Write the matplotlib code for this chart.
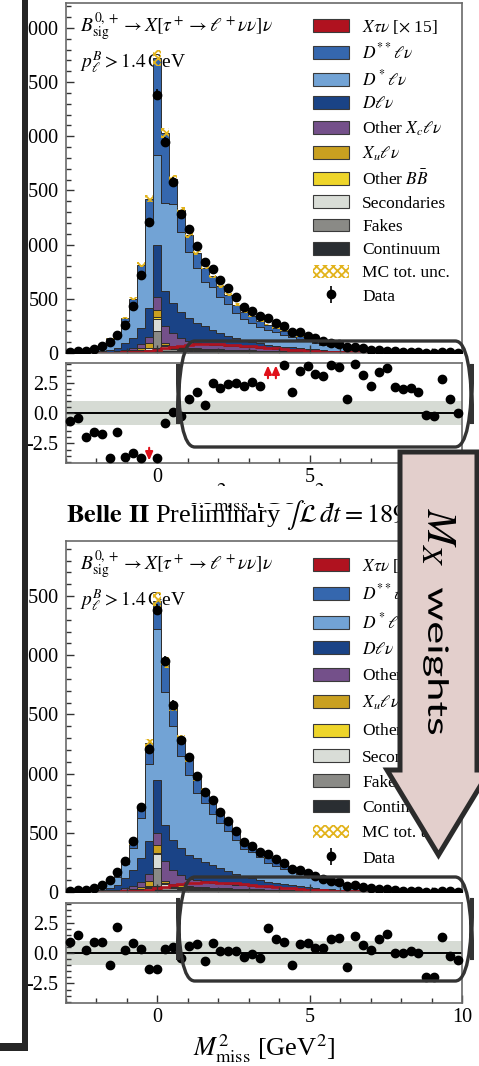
import numpy as np
import matplotlib.pyplot as plt
from matplotlib.patches import Rectangle, Polygon, FancyBboxPatch, PathPatch
from matplotlib.ticker import MultipleLocator, FormatStrFormatter
from matplotlib.textpath import TextPath
from matplotlib.font_manager import FontProperties
from matplotlib.transforms import Affine2D, IdentityTransform

plt.rcParams['font.family'] = 'serif'
plt.rcParams['font.serif'] = ['Liberation Serif', 'DejaVu Serif']
plt.rcParams['mathtext.fontset'] = 'stix'
plt.rcParams['hatch.linewidth'] = 1.3

# 50 bins in M_miss^2 from -3 to 10 GeV^2
edges = np.linspace(-3, 10, 51)
centers = 0.5 * (edges[:-1] + edges[1:])

# components common to both fits (not touched by the M_X weights)
continuum = [2, 2, 3, 3, 4, 4, 5, 6, 8, 10, 15, 50, 20, 18, 16, 15, 14, 13, 12, 11,
             10, 10, 9, 9, 8, 8, 7, 7, 6, 6, 5, 5, 5, 4, 4, 4, 3, 3, 3, 2,
             2, 2, 2, 2, 1, 1, 1, 1, 1, 1]
fakes = [0, 0, 1, 1, 1, 2, 2, 3, 5, 8, 15, 150, 25, 15, 12, 10, 9, 8, 7, 6,
         6, 5, 5, 4, 4, 4, 3, 3, 3, 2, 2, 2, 2, 1, 1, 1, 1, 1, 1, 1,
         1, 1, 0, 0, 0, 0, 0, 0, 0, 0]
secondaries = [0, 0, 0, 1, 1, 1, 2, 3, 4, 6, 12, 118, 20, 12, 10, 9, 8, 7, 6, 5,
               5, 4, 4, 3, 3, 3, 2, 2, 2, 2, 2, 1, 1, 1, 1, 1, 1, 1, 0, 0,
               0, 0, 0, 0, 0, 0, 0, 0, 0, 0]
other_bb = [0, 0, 0, 0, 1, 1, 2, 3, 4, 5, 8, 12, 8, 8, 8, 7, 7, 6, 6, 5,
            5, 5, 4, 4, 4, 3, 3, 3, 3, 2, 2, 2, 2, 2, 1, 1, 1, 1, 1, 1,
            1, 1, 1, 0, 0, 0, 0, 0, 0, 0]
xu_lnu = [0, 0, 1, 1, 1, 2, 3, 5, 8, 15, 40, 70, 20, 12, 10, 9, 8, 7, 6, 6,
          5, 5, 4, 4, 4, 3, 3, 3, 2, 2, 2, 2, 1, 1, 1, 1, 1, 1, 1, 0,
          0, 0, 0, 0, 0, 0, 0, 0, 0, 0]
xtaunu_x15 = [0, 0, 1, 1, 1, 2, 3, 5, 8, 12, 20, 30, 45, 58, 68, 76, 80, 82, 82, 80,
              77, 72, 66, 60, 54, 48, 42, 36, 30, 25, 20, 16, 13, 10, 8, 6, 5, 4, 3, 2,
              2, 1, 1, 1, 1, 0, 0, 0, 0, 0]
mc_unc = [1, 1, 2, 2, 3, 5, 7, 10, 15, 22, 35, 75, 45, 35, 28, 24, 20, 18, 16, 14,
          12, 11, 10, 9, 8, 7, 6, 6, 5, 5, 4, 4, 3, 3, 3, 2, 2, 2, 2, 1,
          1, 1, 1, 1, 1, 1, 1, 1, 1, 1]

data = [10, 14, 20, 36, 62, 98, 168, 262, 432, 716, 1208, 2385, 1950, 1580, 1285, 1140, 983, 842, 775, 678,
        597, 513, 421, 388, 337, 324, 278, 245, 194, 190, 160, 134, 110, 96, 81, 51, 56, 42, 31, 27,
        22, 14, 12, 11, 9, 3, 2, 9, 5, 4]

# X_c l nu components before the M_X weights
oxc_pre = [1, 1, 1, 2, 2, 3, 6, 12, 20, 36, 57, 114, 155, 122, 85, 60, 50, 45, 40, 38,
           35, 32, 30, 28, 25, 23, 21, 19, 17, 15, 13, 11, 9, 8, 7, 6, 5, 4, 3, 3,
           2, 2, 2, 1, 1, 1, 1, 1, 1, 1]
dlnu_pre = [2, 3, 3, 5, 8, 11, 29, 63, 92, 152, 269, 483, 321, 273, 239, 210, 184, 159, 133, 109,
            89, 74, 62, 51, 42, 34, 29, 22, 18, 15, 12, 10, 8, 6, 5, 3, 2, 1, 1, 1,
            1, 1, 1, 1, 1, 1, 1, 1, 1, 0]
dstar_pre = [6, 8, 17, 28, 52, 101, 124, 200, 315, 493, 789, 828, 811, 919, 738, 616, 500, 414, 396, 340,
             295, 235, 192, 176, 154, 138, 124, 110, 97, 84, 71, 60, 49, 40, 31, 24, 18, 13, 9, 6,
             3, 1, 0, 1, 2, 1, 1, 0, 0, 0]
dss_pre = [1, 2, 3, 4, 6, 10, 15, 25, 45, 90, 220, 900, 650, 231, 200, 153, 140, 130, 100, 95,
           88, 76, 66, 58, 52, 46, 40, 36, 32, 28, 24, 20, 17, 14, 11, 9, 7, 6, 5, 4,
           3, 2, 2, 2, 1, 1, 1, 1, 1, 1]

# X_c l nu components after the M_X weights
oxc_post = [1, 1, 1, 2, 2, 3, 7, 13, 22, 38, 60, 100, 165, 125, 88, 64, 54, 48, 43, 40,
            37, 34, 32, 30, 27, 25, 22, 20, 18, 16, 14, 12, 10, 9, 8, 7, 6, 5, 4, 3,
            2, 2, 2, 1, 1, 1, 1, 1, 1, 1]
dlnu_post = [1, 2, 2, 4, 8, 17, 40, 83, 135, 203, 277, 449, 310, 250, 226, 199, 185, 168, 149, 127,
             107, 89, 74, 61, 50, 40, 35, 27, 22, 18, 14, 11, 8, 6, 4, 2, 1, 0, 0, 1,
             1, 1, 1, 1, 1, 1, 1, 1, 1, 0]
dstar_post = [2, 3, 9, 16, 32, 69, 69, 120, 189, 342, 658, 1271, 1119, 962, 780, 677, 555, 493, 429, 386,
              338, 285, 233, 219, 195, 160, 146, 132, 121, 105, 86, 75, 60, 48, 39, 34, 25, 20, 15, 10,
              6, 5, 4, 4, 5, 5, 4, 2, 2, 2]
dss_post = [1, 1, 2, 3, 5, 9, 12, 22, 40, 80, 170, 235, 250, 160, 150, 130, 120, 110, 95, 88,
            80, 72, 63, 56, 50, 44, 39, 35, 31, 27, 23, 20, 17, 14, 11, 9, 7, 6, 5, 4,
            3, 2, 2, 2, 1, 1, 1, 1, 1, 1]

pull_pre = [-0.66, -0.44, -2.0, -1.53, -1.72, -3.7, -1.53, -3.58, -3.3, -3.66,
            -4.8, -3.7, -0.85, 0.1, -0.25, 1.15, 1.7, 0.66, 2.43, 2.02,
            2.35, 2.49, 2.21, 2.57, 2.24, 4.6, 4.5, 3.93, 1.75, 3.47,
            3.85, 3.17, 3.06, 3.93, 3.74, 1.12, 3.99, 3.11, 2.21, 3.33,
            3.72, 2.1, 1.97, 2.08, 1.75, -0.16, -0.25, 2.76, 1.12, 0.03]
pull_post = [0.93, 1.48, 0.25, 0.93, 0.93, -0.98, 2.16, 0.25, 0.85, 0.33,
             -1.34, -1.34, 0.3, 0.46, -0.44, 0.6, 0.71, -0.63, 0.79, 0.16,
             0.16, 0.16, -0.36, -0.08, -0.44, 2.02, 1.12, 0.87, -0.98, 0.71,
             0.79, 0.38, 0.38, 1.12, 1.26, -1.17, 1.42, 0.66, 0.25, 1.15,
             1.56, -0.02, -0.02, 0.19, -0.02, -2.0, -2.0, 1.28, -0.22, -0.57]

labels = [r'$X\tau\nu$ [$\times$ 15]', r'$D^{**}\ell\nu$', r'$D^*\ell\nu$', r'$D\ell\nu$',
          r'Other $X_c\ell\nu$', r'$X_u\ell\nu$', r'Other $B\bar{B}$', 'Secondaries',
          'Fakes', 'Continuum', 'MC tot. unc.', 'Data']
colors = ['#b0121f', '#3567ae', '#72a3d5', '#1a4386', '#74508a', '#c9a020', '#eed52a',
          '#d9ddd7', '#8a8a86', '#2a2e32']
GOLD = '#e2b31c'

W, H = 479, 1066
fig = plt.figure(figsize=(W / 100, H / 100), dpi=100)


def fx(x):
    return x / W


def fy(y):
    return 1 - y / H


def axes_px(x0, y0, x1, y1):
    return fig.add_axes([fx(x0), fy(y1), fx(x1) - fx(x0), (y1 - y0) / H])


def style(ax):
    for s in ax.spines.values():
        s.set_color('#6a6a6a')
        s.set_linewidth(1.2)
    ax.tick_params(which='both', direction='in', top=False, right=False, labelsize=14.5,
                   color='#333333', width=1)
    ax.tick_params(which='major', length=6)
    ax.tick_params(which='minor', length=3.5)
    ax.tick_params(axis='y', pad=5.5)
    ax.set_xlim(-3, 10)
    ax.xaxis.set_major_locator(MultipleLocator(5))
    ax.xaxis.set_minor_locator(MultipleLocator(1))


def main_panel(ax, oxc, dlnu, dstar, dss, ymax, spacing, leg_top):
    style(ax)
    stack = [continuum, fakes, secondaries, other_bb, xu_lnu, oxc, dlnu, dstar, dss]
    stack_colors = colors[1:][::-1]
    base = np.zeros(len(centers))
    for vals, c in zip(stack, stack_colors):
        top = base + np.array(vals)
        ax.stairs(top, edges, baseline=base, fill=True, facecolor=c,
                  edgecolor='#2e2e2e', lw=0.7)
        base = top
    unc = np.array(mc_unc)
    ax.stairs(base + unc, edges, baseline=base - unc, fill=True, facecolor='none',
              edgecolor=GOLD, hatch='xxxx', lw=0)
    ax.stairs(xtaunu_x15, edges, color=colors[0], lw=1.9)
    eb = ax.errorbar(centers, data, yerr=np.sqrt(data), fmt='o', color='black', ms=6,
                     elinewidth=1.2, capsize=0, zorder=4)
    ax.set_ylim(0, ymax)
    ax.yaxis.set_major_locator(MultipleLocator(500))
    ax.yaxis.set_minor_locator(MultipleLocator(100))
    ax.tick_params(labelbottom=False)

    ax.text(0.035, 0.93, r'$B^{0,+}_{\mathrm{sig}} \rightarrow X[\tau^+ \rightarrow \ell^+\nu\nu]\nu$',
            transform=ax.transAxes, fontsize=14, va='center', zorder=0.5)
    ax.text(0.035, 0.832, r'$p^B_\ell > 1.4\,$GeV', transform=ax.transAxes, fontsize=14,
            va='center', zorder=0.5)

    handles = [Rectangle((0, 0), 1, 1, facecolor=c, edgecolor='#3a3a3a', lw=0.8) for c in colors]
    handles.append(Rectangle((0, 0), 1, 1, facecolor='none', edgecolor=GOLD, hatch='xxxx', lw=0))
    handles.append(eb)
    ax.legend(handles, labels, loc='upper left', bbox_to_anchor=(0.623, leg_top), frameon=False,
              fontsize=12.5, handlelength=2.1, handleheight=0.75, labelspacing=spacing,
              handletextpad=0.75, borderpad=0, borderaxespad=0)


def pull_panel(ax, pull):
    style(ax)
    pull = np.array(pull)
    ax.axhspan(-1, 1, color='#d6dbd4', lw=0, zorder=0)
    ax.axhline(0, color='black', lw=1.4, zorder=1)
    ok = np.abs(pull) <= 4.1
    ax.plot(centers[ok], pull[ok], 'o', color='black', ms=6, clip_on=False, zorder=3)
    # out-of-range pulls shown as red arrows
    for c, p in zip(centers[~ok], pull[~ok]):
        s = np.sign(p)
        ax.annotate('', xy=(c, 3.9 * s), xytext=(c, 2.85 * s),
                    arrowprops=dict(arrowstyle='-|>,head_length=0.5,head_width=0.22',
                                    color='#e0101a', lw=1.5, shrinkA=0, shrinkB=0,
                                    mutation_scale=10))
    ax.set_ylim(-4.1, 4.1)
    ax.set_yticks([-2.5, 0, 2.5])
    ax.yaxis.set_major_formatter(FormatStrFormatter('%.1f'))
    ax.yaxis.set_minor_locator(MultipleLocator(0.5))


xlab = r'$M^2_{\mathrm{miss}}$ [GeV$^2$]'

ax1 = axes_px(66, 3, 462, 353)
main_panel(ax1, oxc_pre, dlnu_pre, dstar_pre, dss_pre, 3230, 0.39, 0.958)
ax2 = axes_px(66, 363, 462, 463)
pull_panel(ax2, pull_pre)

ax3 = axes_px(66, 541, 462, 892)
main_panel(ax3, oxc_post, dlnu_post, dstar_post, dss_post, 2965, 0.51, 0.955)
ax4 = axes_px(66, 903, 462, 1003)
pull_panel(ax4, pull_post)
ax4.set_xlabel(xlab, fontsize=19, labelpad=4)

# upper x label, mostly hidden under the lower plot's header
fig.text(fx(262), fy(498), xlab, fontsize=19, ha='center', va='center')
fig.add_artist(Rectangle((fx(60), fy(503)), fx(420) - fx(60), (503 - 486) / H,
                         transform=fig.transFigure, facecolor='white', lw=0, zorder=5))
fig.text(fx(66), fy(516), r'$\mathbf{Belle\ II}$ Preliminary $\int\mathcal{L}\,dt = 189\,\mathrm{fb}^{-1}$',
         fontsize=19, ha='left', va='center', zorder=6)

# left margin and bracket
fig.add_artist(Rectangle((0, 0), fx(22), 1, transform=fig.transFigure,
                         facecolor='white', lw=0, zorder=8))
fig.add_artist(Rectangle((fx(22), fy(1051)), fx(28) - fx(22), 1051 / H, transform=fig.transFigure,
                         facecolor='#262626', lw=0, zorder=9))
fig.add_artist(Rectangle((0, fy(1051)), fx(28), 8 / H, transform=fig.transFigure,
                         facecolor='#262626', lw=0, zorder=9))

# rounded highlight boxes on the pull panels
for y0, y1 in [(341, 447), (877, 981)]:
    fig.add_artist(FancyBboxPatch((fx(178), fy(y1)), fx(472) - fx(178), (y1 - y0) / H,
                                  boxstyle='round,pad=0,rounding_size=0.035',
                                  mutation_aspect=H / W,
                                  transform=fig.transFigure, facecolor='none',
                                  edgecolor='#333333', lw=2.4, zorder=7))

# block arrow between the two fits
arrow_pts = [(400, 452), (477, 452), (477, 770), (490, 770), (438.5, 855), (387, 770), (400, 770)]
fig.add_artist(Polygon([(fx(x), fy(y)) for x, y in arrow_pts], closed=True, transform=fig.transFigure,
                       facecolor='#e3cfcc', edgecolor='#2b2b2b', lw=3.6, joinstyle='miter', zorder=10))
fig.text(fx(437), fy(537), r'$M_X$', fontsize=31, rotation=270, ha='center', va='center', zorder=11)

# wide-set "weights", drawn as a path stretched along the reading direction
tp = TextPath((0, 0), 'weights', size=28, prop=FontProperties(family='Lato'))
bb = tp.get_extents()
tr = (Affine2D().translate(-(bb.x0 + bb.x1) / 2, -(bb.y0 + bb.y1) / 2)
      .scale(1.55, 1.0).rotate_deg(-90).translate(436, H - 661))
fig.add_artist(PathPatch(tr.transform_path(tp), facecolor='black', lw=0,
                         transform=IdentityTransform(), zorder=11))

fig.savefig('out.png', dpi=100)
